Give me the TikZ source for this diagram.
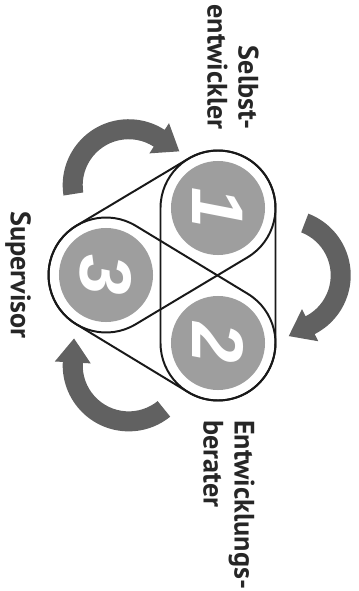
\documentclass[tikz,border=0pt]{standalone}
\usepackage{fontspec}
\setmainfont{PT Sans}
\newfontfamily\digitfont{Liberation Sans}
\usetikzlibrary{calc}
\colorlet{discgray}{black!38}
\colorlet{arrowgray}{black!62}
\colorlet{labelgray}{black!85}
\newcommand{\caprad}{57.5}
% rounded band round two centres
\newcommand{\capsule}[2]{%
    \draw[ringline] let \p1=($(#2)-(#1)$), \n1={atan2(\y1,\x1)} in
        ($(#1)+({\n1+90}:\caprad)$) -- ($(#2)+({\n1+90}:\caprad)$)
        arc[start angle=\n1+90, delta angle=-180, radius=\caprad]
        -- ($(#1)+({\n1-90}:\caprad)$)
        arc[start angle=\n1-90, delta angle=-180, radius=\caprad] -- cycle;}

\begin{document}
\begin{tikzpicture}[x=0.025cm, y=0.025cm,
        disc/.style={circle, fill=discgray, minimum size=2.35cm, inner sep=0pt,
            text=white, font=\digitfont\bfseries\itshape\fontsize{52}{52}\selectfont, rotate=-90},
        role/.style={text=labelgray, font=\bfseries\fontsize{20}{22}\selectfont,
            inner sep=0pt, rotate=-90},
        ringline/.style={draw=black!90, line width=1.4pt}]
        \useasboundingbox (0,0) rectangle (358,-591);
        % coordinates
        \coordinate (c1) at (218,-208);
        \coordinate (c2) at (218,-343);
        \coordinate (c3) at (106,-275);
        \coordinate (mid) at (180.7,-275.3);
        % bands
        \capsule{c1}{c2}
        \capsule{c2}{c3}
        \capsule{c3}{c1}
        % discs
        \node[disc] (one) at (c1) {1};
        \node[disc] (two) at (c2) {2};
        \node[disc] (three) at (c3) {3};
        % turning arrows
        \foreach \a in {0,120,240}
        {
            \begin{scope}[shift={($(mid)+(\a:104)$)}]
                \fill[arrowgray] ({\a+69}:66) arc[start angle=\a+69, end angle=\a-63, radius=66]
                    -- ({\a-63}:74) -- ($({\a-63}:56)+({\a-153}:24)$) -- ({\a-63}:38)
                    -- ({\a-63}:46) arc[start angle=\a-63, end angle=\a+69, radius=46] -- cycle;
            \end{scope}
        }
        % labels
        \node[role, align=right, anchor=east] (self) at (233,-130) {Selbst-\\entwickler};
        \node[role] (sup) at (18,-275) {Supervisor};
        \node[role, align=left, anchor=west] (adv) at (229,-420) {Entwicklungs-\\berater};
\end{tikzpicture}
\end{document}
